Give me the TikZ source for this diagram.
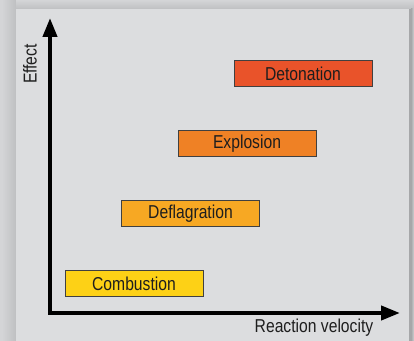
\documentclass[tikz,border=0pt]{standalone}
\usepackage{fontspec}
\setmainfont{Liberation Sans}[FakeStretch=0.84]
\usetikzlibrary{arrows.meta}
\definecolor{pagebg}{HTML}{D4D5D7}
\definecolor{panelbg}{HTML}{DCDDDF}
\definecolor{shadowgray}{HTML}{BFC0C2}
\definecolor{edgegray}{HTML}{A6A7A9}
\definecolor{inkdark}{HTML}{1E1E1E}
\definecolor{combcol}{HTML}{FDD116}
\definecolor{deflcol}{HTML}{F7A823}
\definecolor{explcol}{HTML}{EF8125}
\definecolor{detocol}{HTML}{E9532A}
\tikzset{
  stage/.style={draw=inkdark!85, line width=0.75pt, minimum width=103.5pt,
    minimum height=19.5pt, inner sep=0pt, text=inkdark,
    font=\fontsize{14}{16}\selectfont},
  axislabel/.style={text=inkdark, inner sep=0pt, font=\fontsize{14}{16}\selectfont},
  axis/.style={line width=3pt, black,
    {Triangle[length=14.25pt,width=10.5pt]}-{Triangle[length=14.25pt,width=10.5pt]}}
}
\begin{document}
\begin{tikzpicture}[x=0.75pt, y=-0.75pt]
  % page background and panel with its soft shadow
  \fill[pagebg] (0,0) rectangle (414,341);
  \useasboundingbox (0,0) rectangle (414,341);
  \shade[left color=pagebg, right color=shadowgray] (2,0) rectangle (16,341);
  \shade[top color=pagebg, bottom color=shadowgray] (16,0) rectangle (414,9);
  \fill[edgegray] (409,9) rectangle (414,341);
  \shade[left color=edgegray, right color=pagebg!90!edgegray] (411,9) rectangle (414,341);
  \fill[panelbg] (16,9) rectangle (409,341);

  % axes
  \coordinate (origin) at (50,313);
  \coordinate (ytip) at (50,18);
  \coordinate (xtip) at (400,313);
  \draw[axis] (ytip) -- (origin) -- (xtip);

  \node[axislabel, rotate=90] (ylab) at (30,64) {Effect};
  \node[axislabel] (xlab) at (314,328) {Reaction velocity};

  % stages of the reaction
  \node[stage, fill=combcol] (comb) at (134,284) {Combustion};
  \node[stage, fill=deflcol] (defl) at (190.5,214) {Deflagration};
  \node[stage, fill=explcol] (expl) at (247,143.5) {Explosion};
  \node[stage, fill=detocol] (deto) at (303,73.5) {Detonation};
\end{tikzpicture}
\end{document}
